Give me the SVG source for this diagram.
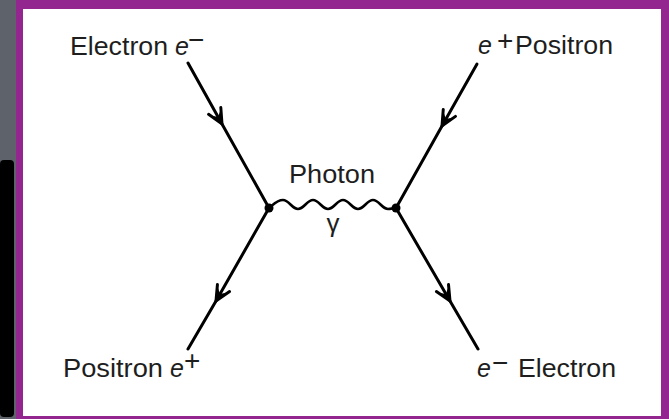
<svg xmlns="http://www.w3.org/2000/svg" width="669" height="419" viewBox="0 0 669 419">
  <defs>
    <style>
      .lbl { font-family: "Liberation Sans", Arial, Helvetica, sans-serif; font-size: 25px; fill: #1e1e1e; }
      .it { font-style: italic; }
      .sup { font-size: 28px; }
      .line { fill: none; stroke: #000; stroke-width: 3; stroke-linecap: round; }
      .wave { fill: none; stroke: #000; stroke-width: 2.6; }
      .dot { fill: #000; }
    </style>
    <marker id="arrow" markerUnits="userSpaceOnUse" viewBox="-20 -10 24 20" markerWidth="24" markerHeight="20" refX="0" refY="0" orient="auto">
      <path d="M-15,-7 L0,0 L-15,7" fill="none" stroke="#000" stroke-width="3" stroke-linejoin="miter" stroke-linecap="round"/>
      <path d="M0,0 L-12,-4.5 L-8,0 L-12,4.5 Z" fill="#000"/>
    </marker>
  </defs>

  <!-- background -->
  <rect x="0" y="0" width="669" height="419" fill="#5e626b"/>
  <rect x="0" y="160" width="14" height="257" rx="4" fill="#000"/>
  <rect x="16" y="0" width="653" height="419" fill="#93278f"/>
  <rect x="23" y="9" width="638" height="407" fill="#ffffff"/>

  <!-- connectors -->
  <g id="connectors">
    <path class="line" d="M188,63 L222,124 L269,208" marker-mid="url(#arrow)"/>
    <path class="line" d="M477,64 L442,126 L396,208" marker-mid="url(#arrow)"/>
    <path class="line" d="M269,208 L216,301 L188,349" marker-mid="url(#arrow)"/>
    <path class="line" d="M396,208 L450,301 L478,349" marker-mid="url(#arrow)"/>
    <path id="photon" class="wave" d="M269,208 C274,204 277,200 283,200 C289,200 292,209 298,209 C304,209 307,200 313,200 C319,200 322,209 328,209 C334,209 337,200 343,200 C349,200 352,209 358,209 C364,209 367,200 373,200 C379,200 382,209 388,209 C391,209 393,208 396,208"/>
  </g>

  <!-- nodes -->
  <g id="vertex-left"><circle class="dot" cx="269" cy="208" r="4.5"/></g>
  <g id="vertex-right"><circle class="dot" cx="396" cy="208" r="4.5"/></g>

  <g id="electron-in">
    <text class="lbl"><tspan x="70" y="55" textLength="98" lengthAdjust="spacingAndGlyphs">Electron</tspan><tspan class="it" x="175" y="55">e</tspan><tspan class="sup" x="188" y="49">−</tspan></text>
  </g>

  <g id="positron-in">
    <text class="lbl"><tspan class="it" x="478" y="54">e</tspan><tspan class="sup" x="497" y="50">+</tspan><tspan x="515" y="54" textLength="98" lengthAdjust="spacingAndGlyphs">Positron</tspan></text>
  </g>

  <g id="positron-out">
    <text class="lbl"><tspan x="63" y="377" textLength="100" lengthAdjust="spacingAndGlyphs">Positron</tspan><tspan class="it" x="170" y="377">e</tspan><tspan class="sup" x="184" y="370">+</tspan></text>
  </g>

  <g id="electron-out">
    <text class="lbl"><tspan class="it" x="477" y="377">e</tspan><tspan class="sup" x="492" y="372">−</tspan><tspan x="518" y="377" textLength="98" lengthAdjust="spacingAndGlyphs">Electron</tspan></text>
  </g>

  <g id="photon-label">
    <text class="lbl" x="289" y="183" textLength="86" lengthAdjust="spacingAndGlyphs">Photon</text>
    <text class="lbl" x="333" y="232" text-anchor="middle" style="font-size:26px">γ</text>
  </g>
</svg>
